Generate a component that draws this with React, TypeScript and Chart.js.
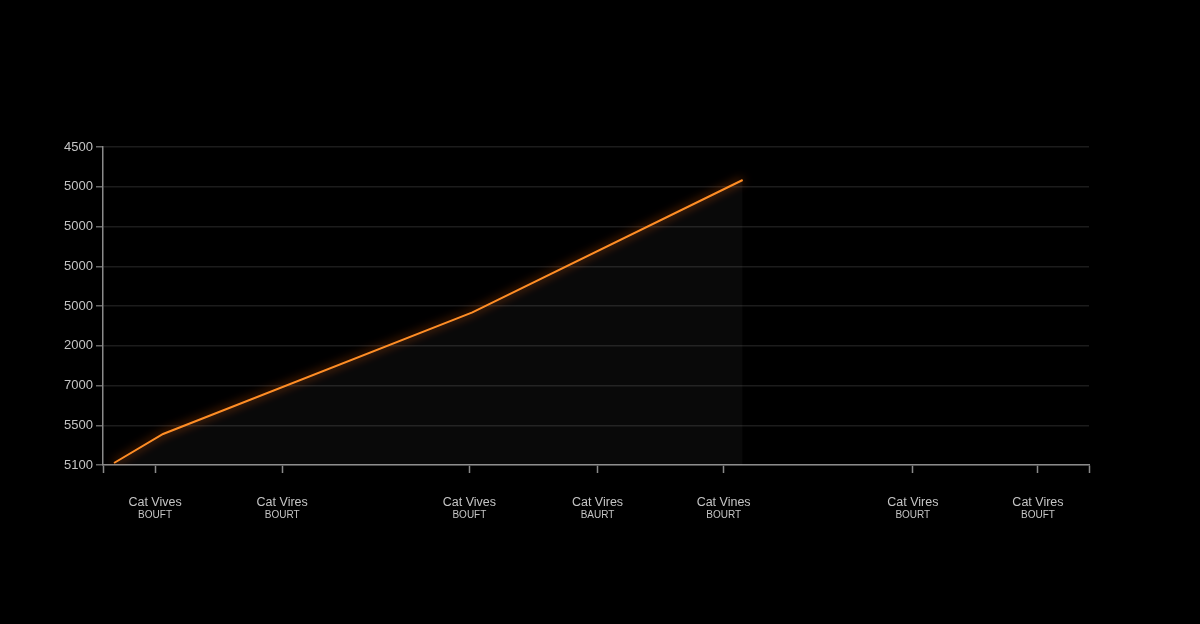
import React, { useEffect, useRef } from "react";
import { Chart, registerables } from "chart.js";

Chart.register(...registerables);

// X positions of category ticks (axis units, axis spans 0..985)
const xTickPositions = [52, 179, 366, 494, 620, 809, 934];
const xAxisMax = 985;
const categoryLines1 = ["Cat Vives", "Cat Vires", "Cat Vives", "Cat Vires", "Cat Vines", "Cat Vires", "Cat Vires"];
const categoryLines2 = ["BOUFT", "BOURT", "BOUFT", "BAURT", "BOURT", "BOURT", "BOUFT"];

// Y tick labels from bottom (index 0) to top (index 8)
const yTickLabels = ["5100", "5500", "7000", "2000", "5000", "5000", "5000", "5000", "4500"];

// Series points
const seriesX = [11, 60, 369, 639];
const seriesY = [0.05, 0.78, 3.84, 7.17];

const TEXT = "#c4c4c4";
const FONT = "'Liberation Sans', Arial, sans-serif";

export default function App() {
  const ref = useRef<HTMLCanvasElement | null>(null);

  useEffect(() => {
    document.body.style.margin = "0";
    document.body.style.background = "#000";
    const canvas = ref.current;
    if (!canvas) return;

    const points = seriesX.map((x, i) => ({ x, y: seriesY[i] }));

    const bgPlugin = {
      id: "bg",
      beforeDraw(chart: any) {
        const { ctx, width, height } = chart;
        ctx.save();
        ctx.fillStyle = "#000";
        ctx.fillRect(0, 0, width, height);
        ctx.restore();
      },
    };

    const glowPlugin = {
      id: "glow",
      beforeDatasetDraw(chart: any, args: any) {
        if (args.index !== 1) return;
        const ctx = chart.ctx;
        ctx.save();
        ctx.shadowColor = "rgba(255, 100, 0, 0.85)";
        ctx.shadowBlur = 10;
      },
      afterDatasetDraw(chart: any, args: any) {
        if (args.index !== 1) return;
        chart.ctx.restore();
      },
    };

    const subLabelPlugin = {
      id: "subLabels",
      afterDraw(chart: any) {
        const scale = chart.scales.x;
        const ctx = chart.ctx;
        ctx.save();
        ctx.fillStyle = TEXT;
        ctx.font = `10px ${FONT}`;
        ctx.textAlign = "center";
        ctx.textBaseline = "middle";
        xTickPositions.forEach((p, i) => {
          ctx.fillText(categoryLines2[i], scale.getPixelForValue(p), 515);
        });
        ctx.restore();
      },
    };

    const chart = new Chart(canvas, {
      type: "line",
      data: {
        datasets: [
          {
            data: points,
            borderWidth: 0,
            pointRadius: 0,
            fill: "start",
            backgroundColor: "rgba(255,255,255,0.035)",
          },
          {
            data: points,
            borderColor: "#ff8c22",
            borderWidth: 2,
            pointRadius: 0,
            fill: false,
            tension: 0,
          },
        ],
      },
      options: {
        responsive: false,
        animation: false,
        layout: { padding: { top: 147, right: 111, left: 0, bottom: 0 } },
        plugins: { legend: { display: false }, tooltip: { enabled: false } },
        scales: {
          x: {
            type: "linear",
            min: 0,
            max: xAxisMax,
            afterBuildTicks(scale: any) {
              scale.ticks = [0, ...xTickPositions, xAxisMax].map((v) => ({ value: v }));
            },
            afterFit(scale: any) {
              scale.height = 624 - 465;
            },
            border: { display: true, color: "#8a8a8a", width: 1.5 },
            grid: {
              drawOnChartArea: false,
              drawTicks: true,
              tickLength: 8,
              tickColor: "#8a8a8a",
              tickWidth: 1.5,
            },
            ticks: {
              autoSkip: false,
              maxRotation: 0,
              padding: 22,
              color: TEXT,
              font: { family: FONT, size: 12.5 },
              callback(value: any) {
                const i = xTickPositions.indexOf(Number(value));
                return i >= 0 ? categoryLines1[i] : "";
              },
            },
          },
          y: {
            type: "linear",
            min: 0,
            max: 8,
            afterBuildTicks(scale: any) {
              scale.ticks = yTickLabels.map((_, i) => ({ value: i }));
            },
            afterFit(scale: any) {
              scale.width = 103;
            },
            border: { display: true, color: "#8a8a8a", width: 1.5 },
            grid: {
              color: "#1c1c1c",
              lineWidth: 1.5,
              drawTicks: true,
              tickLength: 7,
              tickColor: "#666",
            },
            ticks: {
              padding: 3,
              color: TEXT,
              font: { family: FONT, size: 13 },
              callback(value: any) {
                return yTickLabels[Number(value)] ?? "";
              },
            },
          },
        },
      },
      plugins: [bgPlugin, glowPlugin, subLabelPlugin],
    } as any);

    return () => chart.destroy();
  }, []);

  return (
    <div style={{ width: 1200, height: 624, background: "#000" }}>
      <canvas ref={ref} width={1200} height={624} style={{ display: "block", width: 1200, height: 624 }} />
    </div>
  );
}
